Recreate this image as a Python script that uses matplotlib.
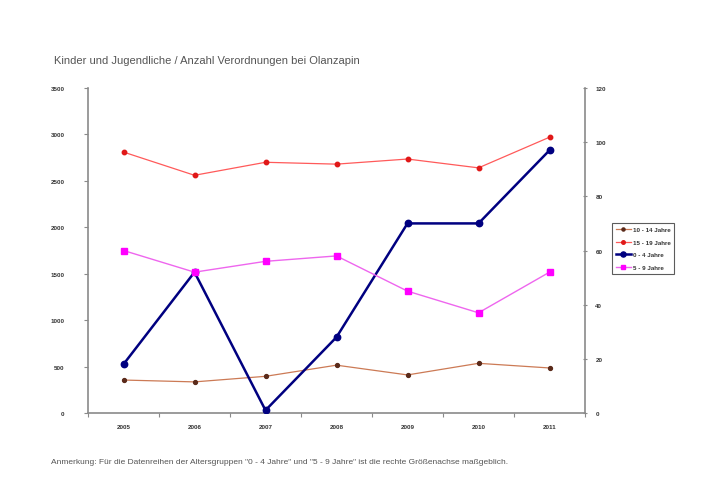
import matplotlib
matplotlib.use("Agg")
import matplotlib.pyplot as plt
import numpy as np

plt.rcParams['font.family'] = ['Liberation Sans', 'DejaVu Sans']

years = ["2005", "2006", "2007", "2008", "2009", "2010", "2011"]

# left axis (Anzahl Verordnungen)
age_10_14 = [355, 335, 395, 515, 410, 535, 485]
age_15_19 = [2810, 2560, 2700, 2680, 2735, 2640, 2970]

# right axis
age_0_4 = [18, 52, 1, 28, 70, 70, 97]
age_5_9 = [60, 52, 56, 58, 45, 37, 52]

left_ticks = [0, 500, 1000, 1500, 2000, 2500, 3000, 3500]
right_ticks = [0, 20, 40, 60, 80, 100, 120]

fig = plt.figure(figsize=(7.05, 4.89), dpi=100)
ax = fig.add_axes([88 / 705, 75 / 489, 497 / 705, 325 / 489])
ax2 = ax.twinx()

x = np.arange(len(years))

axis_col = "#8a8a8a"
text_col = "#333333"

l1, = ax.plot(x, age_10_14, color="#cc7a55", lw=0.9, marker="o", ms=2.8,
              mfc="#5a2a1a", mec="#5a2a1a", label="10 - 14 Jahre")
l2, = ax.plot(x, age_15_19, color="#ff5a5a", lw=0.9, marker="o", ms=3.2,
              mfc="#e01818", mec="#e01818", label="15 - 19 Jahre")
l3, = ax2.plot(x, age_0_4, color="#000080", lw=1.8, marker="o", ms=4.6,
               mfc="#000080", mec="#000080", label="0 - 4 Jahre")
l4, = ax2.plot(x, age_5_9, color="#ee66ee", lw=1.0, marker="s", ms=4.4,
               mfc="#ff00ff", mec="#ff00ff", label="5 - 9 Jahre")

ax.set_xlim(-0.5, len(years) - 0.5)
ax.set_ylim(0, 3500)
ax2.set_ylim(0, 120)

ax.set_yticks(left_ticks)
ax.set_yticklabels([str(v) for v in left_ticks])
ax2.set_yticks(right_ticks)
ax2.set_yticklabels([str(v) for v in right_ticks])

# category axis: tick marks between categories, labels at centres
ax.set_xticks(np.arange(len(years) + 1) - 0.5)
ax.set_xticklabels([])
ax.set_xticks(x, minor=True)
ax.set_xticklabels(years, minor=True)
ax.tick_params(axis="x", which="major", length=3, direction="out", color=axis_col)
ax.tick_params(axis="x", which="minor", length=0, pad=8)

for a in (ax, ax2):
    for s in a.spines.values():
        s.set_color(axis_col)
        s.set_linewidth(1.2)
    a.spines["top"].set_visible(False)

ax.spines["right"].set_visible(False)
ax2.spines["left"].set_visible(False)
ax2.spines["bottom"].set_visible(False)

ax.tick_params(axis="y", length=3, direction="out", color=axis_col, pad=14)
ax2.tick_params(axis="y", length=3, direction="inout", color=axis_col, pad=6)

for lab in (ax.get_yticklabels() + ax2.get_yticklabels()
            + ax.get_xticklabels(minor=True)):
    lab.set_fontsize(4.5)
    lab.set_fontweight("bold")
    lab.set_color(text_col)

leg = fig.legend(handles=[l1, l2, l3, l4], loc="upper left",
                 bbox_to_anchor=(612 / 705, 1 - 224 / 489),
                 fontsize=4.5, frameon=True, fancybox=False,
                 handlelength=2.4, handletextpad=0.3, borderpad=0.6,
                 labelspacing=1.15, borderaxespad=0, markerscale=0.8)
leg.get_frame().set_edgecolor("#333333")
leg.get_frame().set_linewidth(0.8)
for t in leg.get_texts():
    t.set_fontweight("bold")
    t.set_color(text_col)

fig.text(54 / 705, 1 - 61 / 489,
         "Kinder und Jugendliche / Anzahl Verordnungen bei Olanzapin",
         fontsize=8.0, color="#555555", va="center", ha="left")
fig.text(51 / 705, 1 - 463 / 489,
         "Anmerkung: Für die Datenreihen der Altersgruppen \"0 - 4 Jahre\" und "
         "\"5 - 9 Jahre\" ist die rechte Größenachse maßgeblich.",
         fontsize=6.05, color="#555555", va="center", ha="left")

fig.savefig("out.png", dpi=100)
